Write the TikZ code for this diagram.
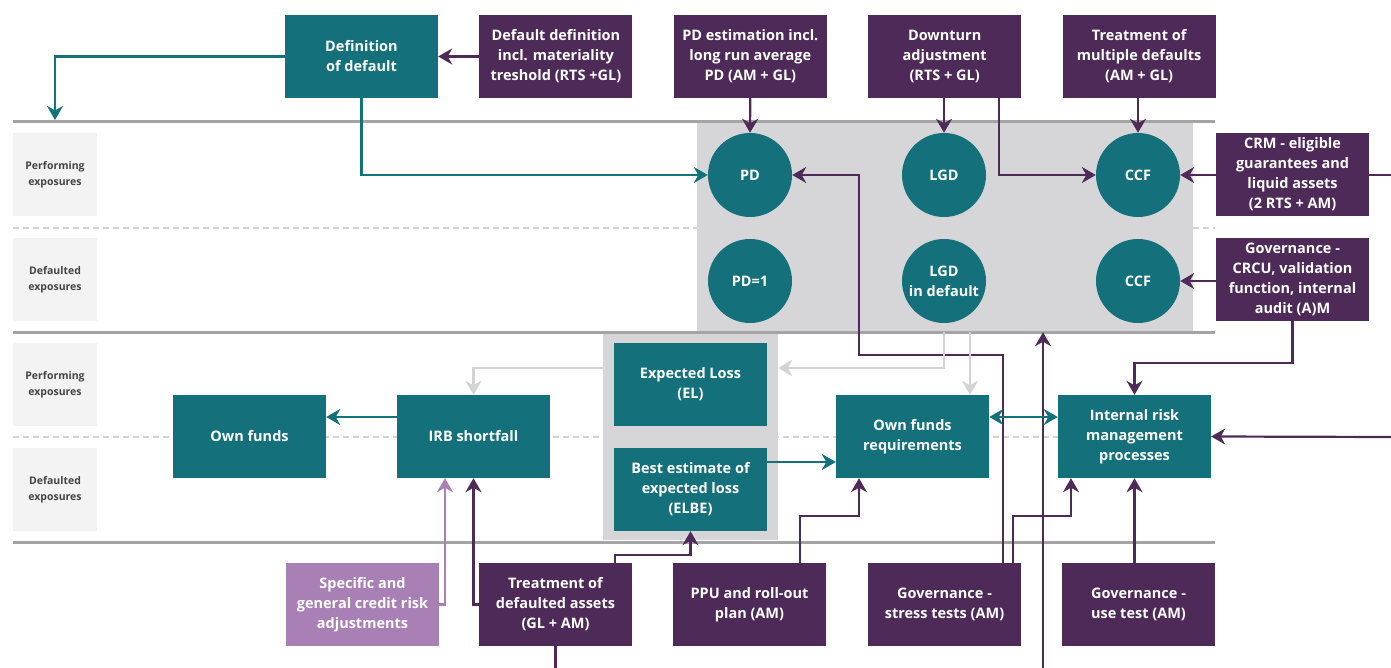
\documentclass[tikz,border=0pt]{standalone}
\usepackage{fontspec}
\setmainfont{Open Sans}
\usetikzlibrary{arrows.meta,positioning,calc}
\definecolor{irbTeal}{HTML}{14707B}
\definecolor{irbPurple}{HTML}{4E2A58}
\definecolor{irbLilac}{HTML}{A880B6}
\definecolor{irbArea}{HTML}{D6D6D9}
\definecolor{irbLane}{HTML}{F3F3F3}
\definecolor{irbInk}{HTML}{444444}
\definecolor{irbRule}{HTML}{A4A4A4}
\definecolor{irbPale}{HTML}{D3D3D6}

\begin{document}
\begin{tikzpicture}[
  x=1pt,y=-1pt,
  font=\bfseries\fontsize{14.5}{20}\selectfont,
  tealbox/.style={fill=irbTeal,text=white,minimum width=153pt,minimum height=83pt,inner sep=2pt,align=center},
  purplebox/.style={tealbox,fill=irbPurple},
  lightbox/.style={tealbox,fill=irbLilac},
  circ/.style={circle,fill=irbTeal,text=white,minimum size=84pt,inner sep=0pt,align=center},
  lanebox/.style={fill=irbLane,text=irbInk,minimum width=84pt,minimum height=83pt,inner sep=0pt,align=center,font=\bfseries\fontsize{10.5}{15.5}\selectfont},
  area/.style={fill=irbArea,inner sep=0pt},
  arr/.style={-{Stealth[length=14pt,width=16pt,inset=4.5pt]},line width=2.2pt,irbTeal},
  darr/.style={arr,{Stealth[length=14pt,width=16pt,inset=4.5pt]}-{Stealth[length=14pt,width=16pt,inset=4.5pt]}},
  parr/.style={arr,irbPurple},
  lparr/.style={arr,irbLilac,line width=2.5pt},
  garr/.style={arr,irbPale,line width=2.8pt},
  pline/.style={line width=2.2pt,irbPurple},
  rule/.style={line width=3pt,irbRule},
  dashrule/.style={line width=2pt,irbPale,dash pattern=on 6pt off 4pt}
]
  \useasboundingbox (0,0) rectangle (1391,668);
  % lanes
  \foreach \y in {228,437} \draw[dashrule] (13,\y) -- (1215,\y);
  \node[area,minimum width=496pt,minimum height=210pt] (pdarea) at (945,227) {};
  \node[area,minimum width=175pt,minimum height=208pt] (elarea) at (690.5,436) {};
  \foreach \y in {122,332,542} \draw[rule] (13,\y) -- (1215,\y);
  \node[lanebox] (perf1) at (55,174.5) {Performing\\exposures};
  \node[lanebox] (dflt1) at (55,279.5) {Defaulted\\exposures};
  \node[lanebox] (perf2) at (55,384.5) {Performing\\exposures};
  \node[lanebox] (dflt2) at (55,489.5) {Defaulted\\exposures};

  % top row
  \node[tealbox] (defdef) at (361.5,56.5) {Definition\\of default};
  \node[purplebox,right=41pt of defdef] (dflt) {Default definition\\incl. materiality\\treshold (RTS +GL)};
  \node[purplebox,right=41pt of dflt] (pdest) {PD estimation incl.\\long run average\\PD (AM + GL)};
  \node[purplebox,right=41pt of pdest] (downturn) {Downturn\\adjustment\\(RTS + GL)};
  \node[purplebox,right=41pt of downturn] (multdef) {Treatment of\\multiple defaults\\(AM + GL)};
  \node[purplebox] (crm) at (1292.5,174.5) {CRM - eligible\\guarantees and\\liquid assets\\(2 RTS + AM)};
  \node[purplebox] (govcrcu) at (1292.5,279.5) {Governance -\\CRCU, validation\\function, internal\\audit (A)M};

  % risk parameters
  \node[circ] (pd) at (750,175) {PD};
  \node[circ] (lgd) at (944,175) {LGD};
  \node[circ] (ccf) at (1138,175) {CCF};
  \node[circ] (pdone) at (750,281) {PD=1};
  \node[circ] (lgdd) at (944,281) {LGD\\in default};
  \node[circ] (ccfd) at (1138,281) {CCF};

  % middle
  \node[tealbox] (ownf) at (249.5,436.5) {Own funds};
  \node[tealbox] (irb) at (473.5,436.5) {IRB shortfall};
  \node[tealbox] (el) at (690.5,384.5) {Expected Loss\\(EL)};
  \node[tealbox] (elbe) at (690.5,489.5) {Best estimate of\\expected loss\\(ELBE)};
  \node[tealbox] (ofr) at (912.5,436.5) {Own funds\\requirements};
  \node[tealbox] (irm) at (1134.5,436.5) {Internal risk\\management\\processes};

  % bottom row
  \node[lightbox] (scra) at (362.5,604.5) {Specific and\\general credit risk\\adjustments};
  \node[purplebox] (tda) at (555.5,604.5) {Treatment of\\defaulted assets\\(GL + AM)};
  \node[purplebox] (ppu) at (749.5,604.5) {PPU and roll-out\\plan (AM)};
  \node[purplebox] (govst) at (944.5,604.5) {Governance -\\stress tests (AM)};
  \node[purplebox] (govut) at (1138.5,604.5) {Governance -\\use test (AM)};

  \coordinate (ddout) at (55,120);
  \coordinate (crmin) at (1391,175);
  \coordinate (irmin) at (1391,437);
  \coordinate (botin) at (1043,668);
  \coordinate (lossrow) at (0,368);
  \path (lgd.south |- pdarea.south) ++(26,0) coordinate (ofrtap);

  \draw[parr] (dflt) -- (defdef);
  \draw[arr] (defdef.west) -| (ddout);
  \draw[arr] (defdef.south) |- (pd.west);
  \draw[parr] (pdest.south) -- (pd.north);
  \draw[parr] (downturn.south -| lgd) -- (lgd.north);
  \draw[parr] ([xshift=54.5pt]downturn.south) |- (ccf.west);
  \draw[parr] (multdef.south -| ccf) -- (ccf.north);
  \draw[parr] (crm.west |- ccf) -- (ccf.east);
  \draw[pline] (crm.east |- crmin) -- (crmin);
  \draw[parr] (govcrcu.west |- ccfd) -- (ccfd.east);
  \draw[parr] (govcrcu.south) -- ++(0,42) -| (irm.north);
  \draw[parr] (irmin) -- (irm.east);
  \draw[parr] (govut.north -| irm) -- (irm.south);
  \draw[parr] ([xshift=58.5pt]govst.north) -- ++(0,-208) -| ([xshift=67pt]pd.east) -- (pd.east);
  \draw[parr] ([xshift=68.5pt]govst.north) -- ++(0,-47) -| ([xshift=-63.5pt]irm.south);
  \draw[parr] (botin) -- (botin |- pdarea.south);
  \draw[parr] ([xshift=50.5pt]ppu.north) -- ++(0,-47) -| ([xshift=-53.5pt]ofr.south);
  \draw[parr] ([xshift=59.5pt]tda.north) -- ++(0,-8) -| (elbe.south);
  \draw[parr] (tda.west) -| (irb.south);
  \draw[pline] (tda.south) -- ++(0,22);
  \draw[lparr] (scra.east) -| ([xshift=-28.5pt]irb.south);
  \draw[arr] ([yshift=19.5pt]irb.west) -- ([yshift=19.5pt]ownf.east);
  \draw[arr] ([yshift=27.5pt]elbe.east) -- ([yshift=-25.5pt]ofr.west);
  \draw[darr] ([yshift=19.5pt]ofr.east) -- ([yshift=19.5pt]irm.west);
  \draw[garr] (lgd.south |- pdarea.south) |- (elarea.east |- lossrow);
  \draw[garr] (elarea.west |- lossrow) -| (irb.north);
  \draw[garr] (ofrtap) -- (ofrtap |- ofr.north);
\end{tikzpicture}
\end{document}
